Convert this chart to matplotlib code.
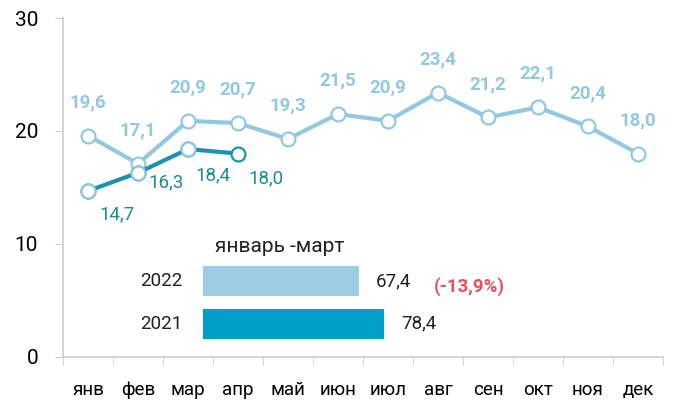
import numpy as np
import matplotlib
matplotlib.use("Agg")
import matplotlib.pyplot as plt
from matplotlib import font_manager

# данные
months = ["янв", "фев", "мар", "апр", "май", "июн",
          "июл", "авг", "сен", "окт", "ноя", "дек"]
light_vals = [19.6, 17.1, 20.9, 20.7, 19.3, 21.5, 20.9, 23.4, 21.2, 22.1, 20.4, 18.0]
dark_vals = [14.7, 16.3, 18.4, 18.0]
bar_years = ["2021", "2022"]
bar_vals = [78.4, 67.4]
bar_title = "январь -март"
bar_change = "(-13,9%)"

names = {f.name for f in font_manager.fontManager.ttflist}
fam = "Liberation Sans Narrow" if "Liberation Sans Narrow" in names else "Roboto"
plt.rcParams["font.family"] = [fam, "DejaVu Sans"]

c_light = "#93c8e0"
c_dark = "#1a93ab"
c_dark_txt = "#1f8c8f"
c_bar_light = "#9ccde4"
c_bar_dark = "#00a0c6"
c_red = "#e8505e"
c_axis = "#cccccc"

fig = plt.figure(figsize=(6.82, 4.01), dpi=100)
ax = fig.add_axes([63 / 682, 1 - 357 / 401, 600 / 682, 339 / 401])

x = np.arange(len(months))
ax.plot(x, light_vals, color=c_light, lw=3, marker="o", ms=10,
        mfc="white", mec=c_light, mew=1.6, zorder=3)
xd = np.arange(len(dark_vals))
ax.plot(xd, dark_vals, color=c_dark, lw=3, marker="o", ms=10,
        mfc="white", mec=c_dark, mew=1.6, zorder=4)
# у маркеров 2022 светлая обводка в начале
ax.plot(xd[:3], dark_vals[:3], ls="none", marker="o", ms=10,
        mfc="white", mec=c_light, mew=1.6, zorder=5)

for xi, v in zip(x, light_vals):
    ax.annotate(f"{v:.1f}".replace(".", ","), (xi, v), xytext=(0, 24),
                textcoords="offset points", ha="center", va="center",
                color=c_light, fontsize=13.5, fontweight="bold")

dark_off = [(21, -17), (20, -7), (18, -19), (20, -18)]
for xi, v, off in zip(xd, dark_vals, dark_off):
    ax.annotate(f"{v:.1f}".replace(".", ","), (xi, v), xytext=off,
                textcoords="offset points", ha="center", va="center",
                color=c_dark_txt, fontsize=13.5)

ax.set_xlim(-0.5, 11.5)
ax.set_ylim(0, 30)
ax.set_yticks([0, 10, 20, 30])
ax.tick_params(axis="y", length=6, color=c_axis, labelsize=15, pad=12)
ax.set_xticks(x)
ax.set_xticklabels(months)
ax.set_xticks(np.arange(-0.5, 12, 1), minor=True)
ax.tick_params(axis="x", which="major", length=0, labelsize=13.5, pad=17)
for s in ["top", "right"]:
    ax.spines[s].set_visible(False)
for s in ["left", "bottom"]:
    ax.spines[s].set_color(c_axis)
    ax.spines[s].set_linewidth(1.2)
ax.tick_params(axis="x", which="minor", color=c_axis, direction="out", length=6)

# врезка с барами
bx = fig.add_axes([203 / 682, 1 - 345 / 401, 231 / 682, 85 / 401])
bx.barh([0, 1], bar_vals, height=0.7, color=[c_bar_dark, c_bar_light])
bx.set_xlim(0, 100)
bx.set_ylim(-0.5, 1.5)
bx.axis("off")
for i, (yr, v) in enumerate(zip(bar_years, bar_vals)):
    bx.text(-9, i, yr, ha="right", va="center", fontsize=13.5, color="#222222")
    bx.text(v + 7.5, i, f"{v:.1f}".replace(".", ","), ha="left", va="center",
            fontsize=13.5, color="#222222")
bx.text(100, 1 - 0.12, bar_change, ha="left", va="center", fontsize=13.5,
        color=c_red, fontweight="bold")
bx.text(5, 1.82, bar_title, ha="left", va="center", fontsize=15, color="#222222")

fig.savefig("out.png", dpi=100)
